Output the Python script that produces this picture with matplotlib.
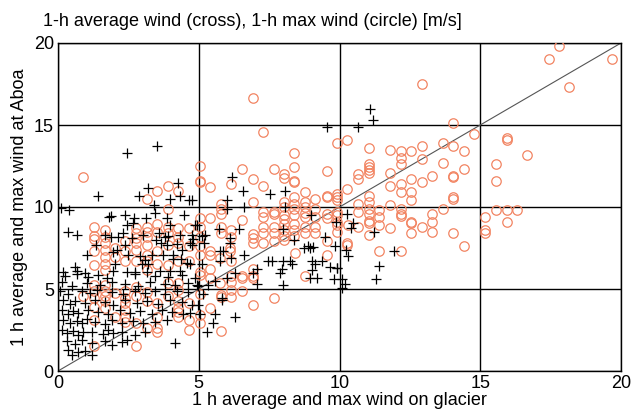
import numpy as np
import matplotlib
matplotlib.use("Agg")
import matplotlib.pyplot as plt

plt.rcParams['font.family'] = ['Liberation Sans', 'DejaVu Sans']

# 1-h average wind (glacier, Aboa) -> crosses
cross_pts = [
    (2.44, 13.3), (3.5, 13.7), (9.54, 14.9), (11.07, 16.0), (11.2, 15.3), (10.66, 14.9),
    (4.27, 11.45), (3.21, 11.15), (1.41, 10.7), (2.89, 10.7), (3.98, 10.5), (4.33, 10.7),
    (4.65, 10.45), (4.75, 10.45), (3.41, 10.15), (0.1, 9.95), (0.39, 9.8), (1.82, 9.4),
    (1.88, 9.45), (2.38, 9.5), (2.7, 9.35), (3.11, 9.35), (3.45, 9.65), (3.86, 9.35),
    (4.49, 9.5), (2.44, 8.9), (2.65, 9.05), (3.98, 8.9), (4.87, 8.9), (0.34, 8.5),
    (0.66, 8.3), (1.67, 8.3), (1.88, 8.2), (2.14, 8.15), (2.32, 8.4), (2.62, 8.1),
    (3.03, 8.3), (3.59, 8.4), (3.8, 8.2), (3.9, 8.25), (4.33, 8.3), (4.75, 8.3),
    (4.81, 8.05), (5.1, 8.25), (1.34, 7.7), (2.38, 7.7), (3.48, 8.0), (3.66, 7.8),
    (3.88, 7.7), (4.24, 7.75), (4.7, 7.8), (4.77, 7.7), (1.02, 7.1), (1.97, 7.25),
    (2.08, 7.4), (2.5, 7.05), (2.9, 7.0), (3.09, 6.75), (3.33, 7.05), (3.74, 7.05),
    (4.1, 7.05), (4.1, 6.85), (4.39, 7.4), (4.37, 6.85), (4.57, 6.6), (5.1, 6.5),
    (2.02, 6.55), (2.99, 6.55), (0.6, 6.35), (0.66, 6.1), (0.96, 6.0), (0.19, 6.05),
    (1.97, 6.1), (2.44, 6.05), (2.74, 6.05), (3.15, 6.05), (3.21, 6.55), (3.61, 6.1),
    (3.98, 6.1), (4.33, 6.1), (4.69, 6.5),
    (0.25, 5.8), (0.66, 5.9), (1.08, 5.75), (1.43, 5.85), (1.73, 5.7), (2.74, 5.9),
    (3.45, 5.8), (3.92, 5.75), (4.39, 5.85),
    (0.13, 5.4), (0.49, 5.2), (1.02, 5.35), (1.49, 5.25), (1.91, 5.45), (2.38, 5.3),
    (2.85, 5.2), (3.27, 5.4), (3.8, 5.3), (4.16, 5.25), (4.63, 5.35), (4.98, 5.2),
    (0.07, 4.9), (0.37, 4.7), (0.84, 4.85), (1.14, 4.75), (1.37, 4.95), (1.91, 4.8),
    (2.32, 4.7), (2.74, 4.9), (3.09, 4.75), (3.45, 4.85), (3.8, 4.7), (4.22, 4.9),
    (4.63, 4.8),
    (0.19, 4.3), (0.43, 4.1), (0.6, 4.25), (0.96, 4.15), (1.31, 4.35), (1.67, 4.2),
    (1.97, 4.05), (2.38, 4.3), (2.8, 4.15), (3.15, 4.25), (3.56, 4.1), (3.98, 4.3),
    (4.39, 4.2), (4.75, 4.05),
    (0.13, 3.7), (0.37, 3.5), (0.54, 3.65), (0.72, 3.55), (1.08, 3.75), (1.43, 3.6),
    (1.79, 3.45), (2.2, 3.7), (2.56, 3.55), (2.91, 3.65), (3.33, 3.5), (3.68, 3.7),
    (4.04, 3.6), (4.45, 3.45), (4.69, 3.55),
    (0.19, 3.1), (0.43, 2.9), (0.66, 3.05), (0.84, 2.95), (1.02, 3.15), (1.31, 3.0),
    (1.67, 2.85), (1.91, 3.1), (2.26, 2.95), (2.67, 3.05), (3.03, 2.9), (3.45, 3.0),
    (3.86, 3.1),
    (0.13, 2.5), (0.31, 2.3), (0.54, 2.45), (0.72, 2.2), (0.9, 2.4), (1.2, 2.35),
    (1.61, 2.25), (1.79, 2.5), (1.97, 2.3), (2.26, 2.4), (2.74, 2.2), (3.09, 2.35),
    (0.31, 1.8), (0.6, 1.65), (0.84, 1.9), (1.2, 1.7), (1.67, 1.85), (1.91, 1.6),
    (2.26, 1.75), (2.44, 1.9), (4.16, 1.7),
    (0.37, 1.3), (0.49, 1.0), (0.72, 1.15), (0.96, 1.2), (1.2, 0.95),
    (6.19, 11.8), (6.58, 11.0), (7.52, 10.8), (8.08, 11.0), (5.99, 10.4), (5.99, 9.9),
    (6.62, 10.0), (8.05, 10.0), (9.0, 9.5), (9.89, 9.1), (7.99, 8.65), (6.43, 8.65),
    (6.1, 8.1), (6.1, 7.8), (5.72, 8.65), (5.23, 8.3), (8.38, 8.0), (9.48, 8.15),
    (8.89, 7.6), (9.07, 7.55), (9.84, 7.6), (5.18, 7.8), (4.93, 8.9),
    (6.61, 7.1), (5.75, 7.3), (5.87, 7.3), (6.15, 6.9), (5.75, 6.7), (7.47, 6.7),
    (7.61, 6.7), (7.08, 6.25), (6.92, 6.0), (7.89, 6.0), (8.0, 6.7), (8.24, 6.7),
    (8.32, 6.5), (7.95, 6.25), (8.73, 7.5), (8.95, 7.5), (9.03, 6.7), (9.13, 6.55),
    (9.39, 6.7), (9.01, 6.15), (9.66, 6.35), (9.9, 6.3), (8.95, 5.65), (9.19, 5.65),
    (9.8, 5.6), (10.08, 5.6), (8.0, 5.25), (7.06, 5.3), (6.29, 5.95), (5.99, 5.65),
    (5.58, 5.5), (5.34, 5.25), (4.87, 5.65), (4.93, 5.25), (5.16, 4.7), (5.81, 4.45),
    (5.81, 4.35), (4.98, 4.0), (5.03, 3.5), (5.58, 3.5), (6.28, 3.3), (5.52, 2.95),
    (5.28, 2.35),
    (10.28, 9.6), (10.48, 9.0), (10.41, 8.7), (11.21, 8.5), (10.22, 7.4), (10.31, 7.0),
    (11.95, 7.3), (11.39, 6.4), (9.92, 6.3), (11.3, 5.6), (10.2, 5.3), (10.1, 5.05),
]

# 1-h max wind -> circles
circle_pts = [
    (17.8, 19.8), (17.43, 19.0), (19.68, 19.0), (18.16, 17.3), (14.78, 14.43),
    (15.94, 14.2), (15.94, 14.1), (16.67, 13.2), (15.55, 12.6), (15.55, 11.6),
    (15.55, 9.8), (15.94, 9.8), (16.3, 9.8), (15.17, 9.4), (15.94, 9.1), (15.17, 8.6),
    (15.17, 8.43), (14.04, 15.1), (12.92, 17.5), (6.93, 16.65), (7.27, 14.6), (8.39, 13.3),
    (10.28, 14.1), (9.92, 13.9), (11.04, 13.6), (11.79, 13.5), (12.17, 13.4), (12.55, 13.4),
    (12.93, 13.7), (13.67, 13.9), (14.04, 13.7), (14.42, 13.4), (12.17, 13.0), (12.93, 12.9),
    (13.67, 12.7), (11.04, 12.6), (11.04, 12.45), (11.04, 12.25), (11.04, 12.1), (10.67, 12.0),
    (10.67, 11.7), (11.79, 12.1), (12.17, 12.6), (12.55, 11.7), (12.93, 11.5), (13.3, 11.9),
    (14.04, 11.9), (14.04, 11.8), (14.42, 12.3), (10.28, 11.1), (11.79, 11.3), (12.17, 11.4),
    (12.17, 10.9), (12.55, 10.9), (12.55, 10.4), (14.04, 10.6), (14.04, 10.5), (9.92, 10.8),
    (9.92, 10.6), (9.92, 10.4), (11.04, 10.7), (11.04, 10.3), (10.67, 10.2), (11.79, 10.1),
    (13.67, 9.9), (11.04, 9.9), (11.04, 9.6), (11.41, 9.8), (11.41, 9.4), (9.92, 9.7),
    (9.92, 9.5), (9.92, 9.1), (9.92, 8.9), (12.17, 9.9), (12.17, 9.6), (12.17, 9.45),
    (10.67, 9.7), (13.3, 9.6), (13.3, 9.1), (10.29, 8.9), (10.67, 8.8), (11.04, 9.15),
    (11.04, 9.0), (11.41, 8.9), (11.79, 8.7), (12.55, 9.1), (12.55, 9.0), (12.55, 8.4),
    (12.93, 8.8), (13.3, 8.5), (14.04, 8.4), (11.04, 8.3), (10.28, 7.8), (10.28, 7.7),
    (14.42, 7.6), (11.41, 7.3), (12.17, 7.3),
    (5.03, 12.5), (5.03, 11.6), (5.03, 11.5), (6.55, 12.3), (7.66, 12.3), (8.39, 12.45),
    (9.54, 12.2), (8.02, 12.0), (8.02, 11.75), (8.39, 11.6), (8.39, 11.5), (6.15, 11.4),
    (6.92, 11.7), (5.4, 11.2), (7.29, 11.3), (8.76, 10.9), (9.54, 10.7), (9.54, 10.6),
    (9.13, 10.5), (8.39, 10.6), (8.39, 10.2), (8.76, 10.3), (8.02, 10.3), (8.02, 10.0),
    (6.92, 10.3), (5.78, 10.2), (5.78, 9.85), (5.78, 9.6), (7.66, 9.7), (7.66, 9.6),
    (7.29, 9.7), (7.29, 9.4), (8.39, 9.85), (8.39, 9.5), (8.76, 10.0), (8.76, 9.65),
    (8.76, 9.4), (9.13, 9.85), (9.13, 9.4), (9.54, 9.6), (9.54, 9.3), (8.02, 9.5),
    (8.02, 9.25), (8.02, 8.95), (5.03, 9.3), (5.4, 9.35), (6.55, 9.2), (7.29, 8.8),
    (7.29, 8.4), (7.66, 8.8), (7.66, 8.4), (7.66, 7.9), (8.39, 8.96), (8.39, 8.6),
    (8.39, 8.23), (8.76, 8.8), (8.76, 8.4), (9.13, 8.8), (9.13, 8.4), (6.92, 8.35),
    (6.92, 8.1), (6.92, 7.8), (6.15, 8.6), (6.15, 8.2), (5.78, 8.8), (5.78, 8.4),
    (5.03, 8.2), (8.02, 8.6), (8.02, 8.25), (8.02, 8.0), (9.54, 7.9), (9.92, 8.5),
    (7.29, 7.8),
    (5.4, 7.3), (5.4, 7.1), (6.11, 7.5), (6.11, 7.3), (5.75, 6.9), (6.15, 6.7),
    (5.04, 6.05), (5.04, 5.85), (5.4, 6.25), (5.4, 5.65), (5.75, 5.35), (6.15, 5.8),
    (6.15, 5.4), (6.53, 5.8), (6.53, 5.7), (6.92, 6.2), (6.92, 5.8), (6.92, 5.7),
    (6.53, 4.9), (6.15, 4.95), (6.15, 4.5), (5.78, 4.65), (5.78, 4.5), (5.04, 4.7),
    (5.04, 3.4), (5.4, 3.85), (5.04, 2.9), (6.92, 4.0), (7.66, 4.45), (5.78, 2.45),
    (8.42, 7.2), (8.77, 5.8), (9.54, 7.1),
    (0.9, 11.8), (3.92, 11.3), (3.53, 11.0), (3.15, 10.5), (4.27, 11.0), (3.92, 9.9),
    (1.28, 8.8), (1.28, 8.25), (1.28, 8.05), (1.28, 7.3), (1.67, 8.6), (1.67, 8.2),
    (1.67, 7.8), (1.67, 7.4), (1.67, 6.95), (1.67, 6.55), (1.67, 6.15), (2.77, 8.7),
    (2.77, 8.4), (2.77, 8.1), (2.77, 7.8), (2.77, 7.4), (2.77, 6.7), (3.15, 8.8),
    (3.15, 8.5), (3.15, 8.2), (3.15, 7.7), (3.53, 8.95), (3.53, 8.5), (3.92, 8.8),
    (3.92, 8.4), (4.27, 8.7), (4.27, 8.2), (4.27, 7.8), (4.65, 8.7), (4.65, 7.6),
    (5.04, 8.8), (5.04, 7.6), (5.04, 7.1), (2.38, 7.9), (2.38, 7.3), (2.38, 6.7),
    (2.02, 7.5), (2.02, 6.95), (3.15, 7.1), (3.15, 6.7), (3.15, 6.15), (3.53, 7.3),
    (3.53, 6.55), (3.92, 7.7), (3.92, 6.45), (4.27, 6.7), (4.65, 6.7), (1.28, 6.45),
    (1.29, 5.25), (1.29, 4.85), (1.29, 4.45), (1.67, 5.25), (1.67, 4.85), (1.67, 4.55),
    (1.67, 4.25), (1.67, 3.85), (2.02, 4.75), (2.38, 4.85), (2.38, 4.45), (2.38, 4.15),
    (2.38, 3.7), (2.38, 3.3), (2.38, 3.0), (2.77, 5.15), (2.77, 4.55), (3.15, 4.8),
    (3.15, 4.25), (3.53, 4.15), (3.53, 3.3), (3.53, 2.6), (3.53, 2.4), (3.92, 5.35),
    (3.92, 4.55), (4.27, 5.35), (4.27, 4.95), (4.27, 4.25), (4.27, 3.85), (4.27, 3.6),
    (4.27, 3.3), (4.65, 4.15), (4.65, 3.1), (4.65, 2.5), (0.9, 4.55), (1.29, 3.9),
    (1.29, 3.1), (2.02, 3.3), (2.77, 2.9), (2.77, 1.5), (3.15, 2.6), (1.29, 1.5),
]

ticks = [0, 5, 10, 15, 20]

cx, cy = np.array(cross_pts).T
ox, oy = np.array(circle_pts).T

fig = plt.figure(figsize=(6.32, 4.16), dpi=100)
ax = fig.add_axes([58 / 632, 45 / 416, 563 / 632, 328 / 416])

ax.plot(ox, oy, 'o', ms=6.8, mfc='none', mec='#f28462', mew=0.9, zorder=3)
ax.plot(cx, cy, '+', ms=7.5, color='black', mew=0.9, zorder=4)
ax.plot([0, 20], [0, 20], color='#555555', lw=0.8, zorder=2)

ax.set_xlim(0, 20)
ax.set_ylim(0, 20)
ax.set_xticks(ticks)
ax.set_yticks(ticks)
ax.grid(True, color='black', lw=1.0)
ax.tick_params(length=0, labelsize=13, pad=3)
for s in ax.spines.values():
    s.set_linewidth(1.0)

ax.set_xlabel("1 h average and max wind on glacier", fontsize=13, labelpad=0)
ax.set_ylabel("1 h average and max wind at Aboa", fontsize=13, labelpad=4)
fig.text(43 / 632, 1 - 22 / 416, "1-h average wind (cross), 1-h max wind (circle) [m/s]",
         fontsize=13, va='center', ha='left')

fig.savefig("out.png", dpi=100)
